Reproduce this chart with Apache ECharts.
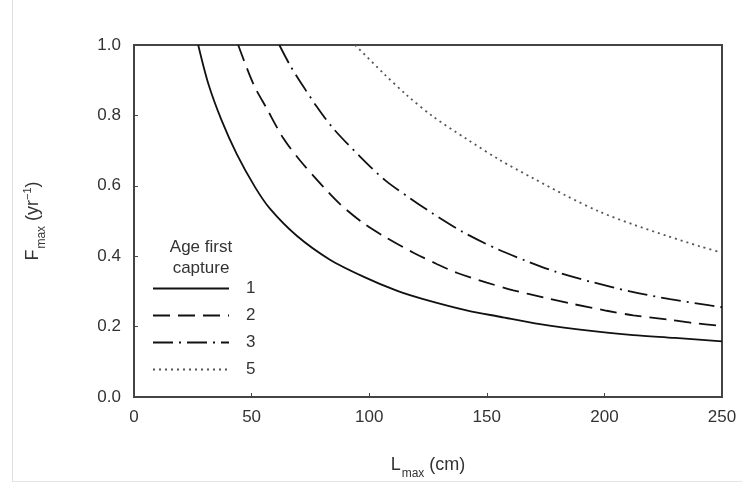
<!DOCTYPE html>
<html>
<head>
<meta charset="utf-8">
<script src="https://cdn.jsdelivr.net/npm/echarts@6/dist/echarts.min.js"></script>
<style>
html,body{margin:0;padding:0;background:#fff;}
#chart{width:742px;height:485px;}
</style>
</head>
<body>
<div id="chart"></div>
<script>
// Legend labels (age at first capture)
var seriesNames = ['1', '2', '3', '5'];
var xTicks = [0, 50, 100, 150, 200, 250];
var yTicks = [0.0, 0.2, 0.4, 0.6, 0.8, 1.0];

// Age 1 (solid)
var L1 = [27.3, 31.6, 37.3, 43.7, 51.4, 57.8, 69.2, 83.3, 97.5, 111.7, 123, 141.4, 155.6, 172.6, 195.3, 212.3, 230, 250];
var F1 = [1.0, 0.89, 0.785, 0.69, 0.597, 0.535, 0.458, 0.39, 0.342, 0.302, 0.278, 0.246, 0.228, 0.207, 0.187, 0.176, 0.168, 0.158];
// Age 2 (dashed)
var L2 = [44.3, 50.7, 56.4, 63.5, 70.6, 80.5, 87.6, 97.5, 107.4, 118.8, 128.7, 137.2, 150, 161.3, 174, 185.4, 201, 212.3, 227.9, 237.8, 250];
var F2 = [1.0, 0.89, 0.82, 0.735, 0.672, 0.597, 0.548, 0.494, 0.452, 0.41, 0.378, 0.353, 0.325, 0.303, 0.283, 0.266, 0.245, 0.232, 0.219, 0.21, 0.202];
// Age 3 (dash-dot)
var L3 = [61.8, 66.3, 72, 77.7, 84.7, 96.1, 106.7, 117.3, 127.3, 140, 154.2, 167, 179.7, 193.9, 210.9, 227.9, 244.9, 250];
var F3 = [1.0, 0.943, 0.882, 0.825, 0.763, 0.683, 0.616, 0.565, 0.52, 0.468, 0.421, 0.386, 0.355, 0.328, 0.3, 0.278, 0.26, 0.255];
// Age 5 (dotted)
var L5 = [94, 106, 115.9, 127.3, 141.4, 155.6, 169.8, 184, 198.1, 212.3, 226.5, 240.6, 250];
var F5 = [1.0, 0.92, 0.858, 0.796, 0.733, 0.673, 0.621, 0.571, 0.526, 0.49, 0.458, 0.428, 0.41];

function pairs(xs, ys) { return xs.map(function (x, i) { return [x, ys[i]]; }); }

var styles = [
  { type: 'solid', color: '#111' },
  { type: [17, 8], color: '#111' },
  { type: [20, 6, 2, 6], color: '#111' },
  { type: [2, 4], color: '#555' }
];
var dataSets = [pairs(L1, F1), pairs(L2, F2), pairs(L3, F3), pairs(L5, F5)];

var chart = echarts.init(document.getElementById('chart'));
var font = 'Liberation Sans, Arial, sans-serif';
chart.setOption({
  animation: false,
  backgroundColor: '#fff',
  grid: { left: 134, right: 20, top: 45, bottom: 88, show: true, borderColor: '#444', borderWidth: 2, backgroundColor: 'transparent' },
  xAxis: {
    type: 'value', min: 0, max: 250, interval: 50,
    axisLine: { lineStyle: { color: '#444', width: 2 } },
    axisTick: { inside: true, length: 4, lineStyle: { color: '#444' } },
    splitLine: { show: false },
    axisLabel: { color: '#333', fontSize: 17, fontFamily: font, margin: 12,
      formatter: function (v) { return xTicks.indexOf(v) >= 0 ? String(v) : ''; } },
    name: '{a|L}{s|max}{a| (cm)}',
    nameLocation: 'middle', nameGap: 57,
    nameTextStyle: { fontFamily: font, color: '#333',
      rich: { a: { fontSize: 18, fontFamily: font, color: '#333', lineHeight: 22 },
              s: { fontSize: 12, fontFamily: font, color: '#333', verticalAlign: 'bottom', lineHeight: 12, padding: [0, 0, -4, 1] } } }
  },
  yAxis: {
    type: 'value', min: 0, max: 1, interval: 0.2,
    axisLine: { lineStyle: { color: '#444', width: 2 } },
    axisTick: { inside: true, length: 4, lineStyle: { color: '#444' } },
    splitLine: { show: false },
    axisLabel: { color: '#333', fontSize: 17, fontFamily: font, margin: 13,
      formatter: function (v) { return v.toFixed(1); } },
    name: '{a|F}{s|max}{a| (yr}{p|−1}{a|)}',
    nameLocation: 'middle', nameGap: 90, nameRotate: 90,
    nameTextStyle: { fontFamily: font, color: '#333',
      rich: { a: { fontSize: 18, fontFamily: font, color: '#333', lineHeight: 22 },
              s: { fontSize: 12, fontFamily: font, color: '#333', verticalAlign: 'bottom', lineHeight: 12, padding: [0, 0, -4, 1] },
              p: { fontSize: 11, fontFamily: font, color: '#333', verticalAlign: 'top', lineHeight: 12 } } }
  },
  legend: {
    orient: 'vertical', left: 152, top: 280, padding: 0,
    itemWidth: 76, itemHeight: 14, itemGap: 10,
    data: seriesNames,
    itemStyle: { opacity: 0 },
    textStyle: { fontSize: 17, fontFamily: font, color: '#333', padding: [0, 0, 0, 12] }
  },
  graphic: [
    { type: 'text', x: 201, y: 247, style: { text: 'Age first', font: '17px Liberation Sans', fill: '#333', align: 'center', verticalAlign: 'middle' } },
    { type: 'text', x: 201, y: 268, style: { text: 'capture', font: '17px Liberation Sans', fill: '#333', align: 'center', verticalAlign: 'middle' } },
    { type: 'line', shape: { x1: 12.5, y1: 0, x2: 12.5, y2: 481 }, style: { stroke: '#ddd', lineWidth: 1 } },
    { type: 'line', shape: { x1: 12, y1: 481.5, x2: 742, y2: 481.5 }, style: { stroke: '#e4e4e4', lineWidth: 1 } }
  ],
  series: seriesNames.map(function (n, i) {
    return {
      name: n, type: 'line', data: dataSets[i], smooth: 0.3,
      symbol: 'none', showSymbol: false,
      lineStyle: { color: styles[i].color, width: 1.8, type: styles[i].type },
      itemStyle: { color: styles[i].color }
    };
  })
});
</script>
</body>
</html>
